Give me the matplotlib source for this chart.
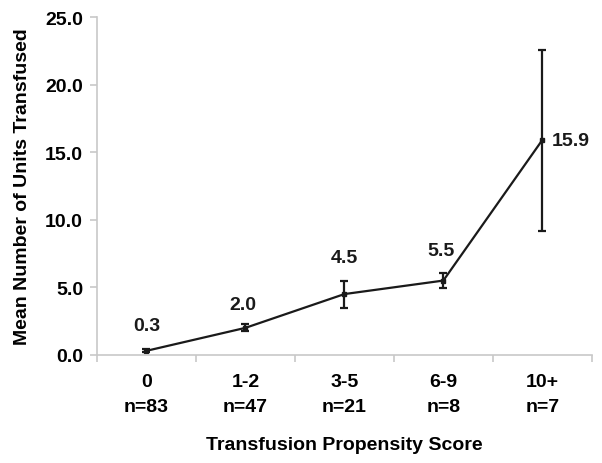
import matplotlib
matplotlib.use("Agg")
import matplotlib.pyplot as plt
import numpy as np

categories = ["0", "1-2", "3-5", "6-9", "10+"]
counts = ["n=83", "n=47", "n=21", "n=8", "n=7"]
means = [0.3, 2.0, 4.5, 5.5, 15.9]
errors = [0.1, 0.25, 1.0, 0.55, 6.7]
value_labels = ["0.3", "2.0", "4.5", "5.5", "15.9"]
yticks = [0.0, 5.0, 10.0, 15.0, 20.0, 25.0]

plt.rcParams['font.family'] = ['Liberation Sans', 'DejaVu Sans']

fig = plt.figure(figsize=(6.02, 4.64), dpi=100)
ax = fig.add_axes([0.161, 0.233, 0.822, 0.728])

x = np.arange(len(categories))
ax.errorbar(x, means, yerr=errors, color='#1a1a1a', lw=1.6, elinewidth=1.6,
            capsize=3, capthick=1.6, marker='s', markersize=2.5)

offsets = [(0, 18), (-2, 16.5), (0, 26), (-1.5, 21.5), (7, 0)]
aligns = ['center', 'center', 'center', 'center', 'left']
for xi, m, lab, off, ha in zip(x, means, value_labels, offsets, aligns):
    ax.annotate(lab, (xi, m), xytext=off, textcoords='offset points',
                ha=ha, va='center', fontsize=14, fontweight='bold',
                color='#1a1a1a')

ax.set_xlim(-0.5, len(categories) - 0.5)
ax.set_ylim(0, 25)
ax.set_yticks(yticks)
ax.set_yticklabels([f"{v:.1f}" for v in yticks], fontsize=14, fontweight='bold')
ax.set_xticks(x)
ax.set_xticklabels([f"{c}\n{n}" for c, n in zip(categories, counts)],
                   fontsize=14, fontweight='bold', linespacing=1.65)
ax.set_xticks(np.arange(-0.5, len(categories)), minor=True)
ax.tick_params(axis='x', which='major', length=0, pad=13)
ax.tick_params(axis='x', which='minor', length=5, color='#c8c8c8', width=1.2)
ax.tick_params(axis='y', length=5, color='#c8c8c8', width=1.2, pad=5)

for s in ['top', 'right']:
    ax.spines[s].set_visible(False)
for s in ['left', 'bottom']:
    ax.spines[s].set_color('#c8c8c8')
    ax.spines[s].set_linewidth(1.2)

ax.set_ylabel("Mean Number of Units Transfused", fontsize=14, fontweight='bold', labelpad=10)
ax.set_xlabel("Transfusion Propensity Score", fontsize=14, fontweight='bold', labelpad=15)

fig.savefig("out.png", dpi=100)
